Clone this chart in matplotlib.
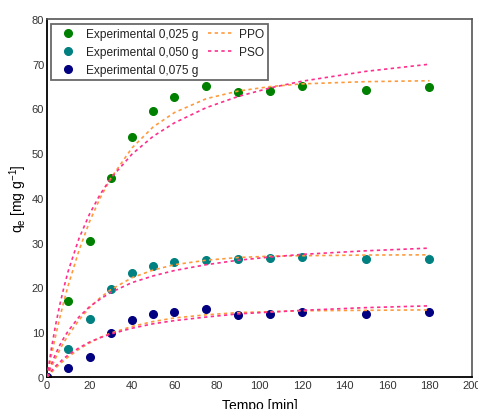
import matplotlib
matplotlib.use("Agg")
import matplotlib.pyplot as plt
from matplotlib.lines import Line2D

plt.rcParams['font.family'] = ['Liberation Sans', 'DejaVu Sans']

# Experimental kinetics (time in min, q_e in mg/g)
t_exp = [0, 10, 20, 30, 40, 50, 60, 75, 90, 105, 120, 150, 180]
q_025 = [0, 17.0, 30.3, 44.5, 53.7, 59.5, 62.6, 65.0, 63.6, 63.8, 65.0, 64.1, 64.9]
q_050 = [0, 6.3, 12.9, 19.6, 23.3, 24.9, 25.7, 26.1, 26.3, 26.6, 26.8, 26.3, 26.4]
q_075 = [0, 1.9, 4.5, 9.8, 12.7, 14.0, 14.6, 15.1, 13.8, 14.0, 14.5, 14.0, 14.5]

# Model curves (PPO = pseudo-first order, PSO = pseudo-second order)
t_fit = [0, 2, 4, 6, 8, 10, 15, 20, 25, 30, 40, 50, 60, 75, 90, 105, 120, 150, 180]
ppo_025 = [0, 4.7, 9.1, 13.2, 17.0, 20.5, 28.2, 34.7, 40.0, 44.4, 51.2, 55.9, 59.1,
           62.2, 63.9, 64.9, 65.5, 66.0, 66.2]
pso_025 = [0, 6.2, 11.5, 16.1, 20.1, 23.7, 30.9, 36.4, 40.8, 44.4, 49.8, 53.8, 56.8,
           60.2, 62.7, 64.6, 66.1, 68.3, 69.9]
ppo_050 = [0, 2.2, 4.2, 6.1, 7.8, 9.3, 12.7, 15.5, 17.7, 19.5, 22.2, 23.9, 25.1,
           26.1, 26.7, 27.0, 27.1, 27.25, 27.3]
pso_050 = [0, 2.8, 5.1, 7.1, 8.8, 10.3, 13.4, 15.7, 17.4, 18.9, 21.1, 22.6, 23.8,
           25.1, 26.1, 26.8, 27.4, 28.2, 28.8]
ppo_075 = [0, 1.0, 2.0, 2.9, 3.7, 4.5, 6.2, 7.6, 8.8, 9.8, 11.3, 12.4, 13.2,
           13.9, 14.4, 14.6, 14.8, 14.9, 15.0]
pso_075 = [0, 1.3, 2.4, 3.3, 4.2, 4.9, 6.5, 7.8, 8.8, 9.6, 10.9, 11.9, 12.6,
           13.4, 14.1, 14.5, 14.9, 15.5, 15.9]

labels_exp = ['Experimental 0,025 g', 'Experimental 0,050 g', 'Experimental 0,075 g']
labels_fit = ['PPO', 'PSO']
x_ticks = [0, 20, 40, 60, 80, 100, 120, 140, 160, 180, 200]
y_ticks = [0, 10, 20, 30, 40, 50, 60, 70, 80]

c_exp = ['#008000', '#008080', '#000080']
c_ppo = '#FF9A3C'
c_pso = '#FF2E8C'
msize = 5.5

fig = plt.figure(figsize=(4.78, 4.10), dpi=100)
ax = fig.add_axes([47 / 478, 32 / 410, 425 / 478, 358 / 410])

for q, c in zip([q_025, q_050, q_075], c_exp):
    ax.plot(t_exp, q, 'o', color=c, markersize=msize, zorder=2, clip_on=True)

for ppo, pso in [(ppo_025, pso_025), (ppo_050, pso_050), (ppo_075, pso_075)]:
    ax.plot(t_fit, ppo, color=c_ppo, lw=1.2, dashes=(2, 2), zorder=3)
    ax.plot(t_fit, pso, color=c_pso, lw=1.2, dashes=(2, 2), zorder=3)

ax.set_xlim(0, 200)
ax.set_ylim(0, 80)
ax.set_xticks(x_ticks)
ax.set_yticks(y_ticks)
ax.tick_params(axis='both', length=0, pad=2, labelsize=8, labelcolor='#333333')

for side in ['left', 'bottom']:
    ax.spines[side].set_color('black')
    ax.spines[side].set_linewidth(1.3)
for side in ['top', 'right']:
    ax.spines[side].set_color('#555555')
    ax.spines[side].set_linewidth(1.2)

ax.set_xlabel('Tempo [min]', fontsize=10, labelpad=6)
ax.set_ylabel(r'q$_\mathregular{e}$ [mg g$^\mathregular{-1}$]', fontsize=10, labelpad=2)

handles = [Line2D([], [], marker='o', ls='', color=c, markersize=msize) for c in c_exp]
handles += [Line2D([], [], color=c_ppo, lw=1.2, dashes=(2, 2)),
            Line2D([], [], color=c_pso, lw=1.2, dashes=(2, 2)),
            Line2D([], [], ls='', marker='')]
leg = ax.legend(handles, labels_exp + labels_fit + [''], ncol=2, loc='upper left',
                bbox_to_anchor=(0.009, 0.986), fontsize=8.6, frameon=True,
                fancybox=False, borderpad=0.35, labelspacing=0.5,
                handlelength=2.2, handletextpad=0.4, columnspacing=0.8,
                borderaxespad=0)
leg.get_frame().set_edgecolor('#444444')
leg.get_frame().set_linewidth(1.3)
for txt in leg.get_texts():
    txt.set_color('#222222')

fig.savefig('out.png', dpi=100)
